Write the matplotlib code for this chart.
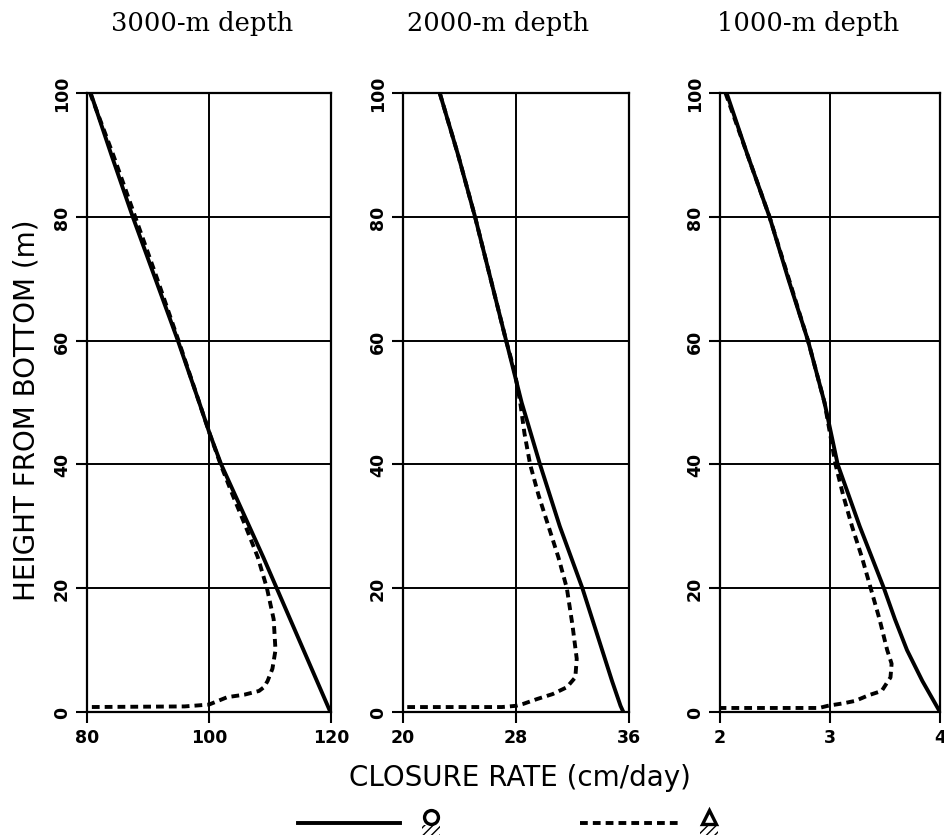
import matplotlib
matplotlib.use("Agg")
import matplotlib.pyplot as plt
from matplotlib.lines import Line2D
from matplotlib.patches import Rectangle

# panel titles and x ranges
titles = ["3000-m depth", "2000-m depth", "1000-m depth"]
xlims = [(80, 120), (20, 36), (2, 4)]
xticks = [[80, 100, 120], [20, 28, 36], [2, 3, 4]]
yticks = [0, 20, 40, 60, 80, 100]

# 3000-m depth
h1_solid = [100, 90, 80, 70, 60, 50, 45, 40, 35, 30, 25, 20, 15, 10, 5, 0]
v1_solid = [80.6, 84.0, 87.5, 91.2, 94.9, 98.4, 100.1, 102.0, 104.3, 106.6,
            108.9, 111.1, 113.3, 115.5, 117.7, 119.9]
h1_dash = [100, 90, 80, 70, 60, 50, 45, 40, 35, 30, 25, 20, 15, 10, 7, 5,
           4, 3.4, 2.8, 2.4, 1.6, 1.2, 0.9, 0.8]
v1_dash = [80.5, 84.3, 87.9, 91.5, 95.0, 98.4, 100.1, 101.9, 103.9, 106.0,
           108.0, 109.5, 110.6, 110.9, 110.4, 109.6, 109.0, 108.2, 105.8,
           103.0, 101.0, 100.0, 96.0, 80.0]

# 2000-m depth
h2_solid = [100, 90, 80, 70, 60, 50, 40, 30, 25, 20, 15, 10, 5, 1, 0]
v2_solid = [22.6, 23.9, 25.1, 26.2, 27.3, 28.4, 29.7, 31.1, 31.9, 32.7,
            33.4, 34.1, 34.8, 35.4, 35.6]
h2_dash = [100, 90, 80, 70, 60, 55, 50, 45, 40, 35, 30, 25, 20, 14, 8.6, 5.6,
           4, 2.9, 2.1, 1.3, 1.0, 0.8, 0.8]
v2_dash = [22.6, 23.9, 25.1, 26.2, 27.3, 27.9, 28.3, 28.6, 29.0, 29.6, 30.3,
           31.0, 31.6, 32.0, 32.3, 32.2, 31.6, 30.6, 29.5, 28.5, 28.0, 27.0,
           20.0]

# 1000-m depth
h3_solid = [100, 90, 80, 70, 60, 50, 40, 35, 30, 25, 20, 15, 10, 7.5, 5, 2.5, 0]
v3_solid = [2.06, 2.25, 2.45, 2.62, 2.80, 2.95, 3.07, 3.17, 3.27, 3.38, 3.49,
            3.59, 3.70, 3.77, 3.84, 3.92, 4.0]
h3_dash = [100, 80, 60, 50, 45, 40, 35, 30, 25, 20, 15, 10, 7.8, 5.6, 3.4,
           2.7, 1.8, 1.4, 1.0, 0.65, 0.65]
v3_dash = [2.05, 2.45, 2.80, 2.95, 3.0, 3.05, 3.12, 3.20, 3.29, 3.37, 3.45,
           3.52, 3.56, 3.55, 3.47, 3.35, 3.23, 3.12, 2.98, 2.9, 2.0]

solids = [(v1_solid, h1_solid), (v2_solid, h2_solid), (v3_solid, h3_solid)]
dashes = [(v1_dash, h1_dash), (v2_dash, h2_dash), (v3_dash, h3_dash)]

W, H = 945, 837
fig = plt.figure(figsize=(W / 100, H / 100), dpi=100)

# panel boxes in pixels: left, width
boxes = [(87, 244), (403, 226), (720, 220)]
top, bottom = 94, 713
title_x = [0.47, 0.42, 0.40]
dash_style = (0, (2.0, 1.3))

for i in range(3):
    left, width = boxes[i]
    ax = fig.add_axes([left / W, (H - bottom) / H, width / W, (bottom - top) / H])
    ax.plot(*solids[i], color="black", lw=2.8, solid_capstyle="butt",
            solid_joinstyle="round")
    ax.plot(*dashes[i], color="black", lw=2.8, linestyle=dash_style)
    ax.set_xlim(*xlims[i])
    ax.set_ylim(0, 100)
    ax.set_xticks(xticks[i])
    ax.set_yticks(yticks)
    for y in yticks[1:-1]:
        ax.axhline(y, color="black", lw=1.4, zorder=0)
    ax.axvline(xticks[i][1], color="black", lw=1.4, zorder=0)
    for s in ax.spines.values():
        s.set_linewidth(1.6)
    ax.tick_params(direction="out", length=8, width=1.5, labelsize=12.5)
    for lab in ax.get_xticklabels() + ax.get_yticklabels():
        lab.set_fontweight("bold")
    for lab in ax.get_yticklabels():
        lab.set_rotation(90)
        lab.set_va("center")
    ax.set_title(titles[i], family="DejaVu Serif", fontsize=18.5, pad=45,
                 x=title_x[i])

fig.text(520 / W, 1 - 778 / H, "CLOSURE RATE (cm/day)", fontsize=20,
         ha="center", va="center")
fig.text(27 / W, 1 - 410 / H, "HEIGHT FROM BOTTOM (m)", fontsize=20,
         rotation=90, ha="center", va="center")

# legend: lines with boundary symbols
def fx(px):
    return px / W

def fy(py):
    return 1 - py / H

fig.add_artist(Line2D([fx(298), fx(400)], [fy(824), fy(824)], color="black",
                      lw=2.8, transform=fig.transFigure))
fig.add_artist(Line2D([fx(580), fx(678)], [fy(824), fy(824)], color="black",
                      lw=2.8, linestyle=dash_style,
                      transform=fig.transFigure))
for cx, mk in [(431, "o"), (709, "^")]:
    fig.add_artist(Line2D([fx(cx)], [fy(818)], marker=mk, markersize=10,
                          mfc="white", mec="black", mew=2.4,
                          transform=fig.transFigure))
    fig.add_artist(Rectangle((fx(cx - 9), fy(836)), 18 / W, 10 / H,
                             hatch="////", fill=False, lw=0,
                             transform=fig.transFigure))

fig.savefig("out.png", dpi=100)
